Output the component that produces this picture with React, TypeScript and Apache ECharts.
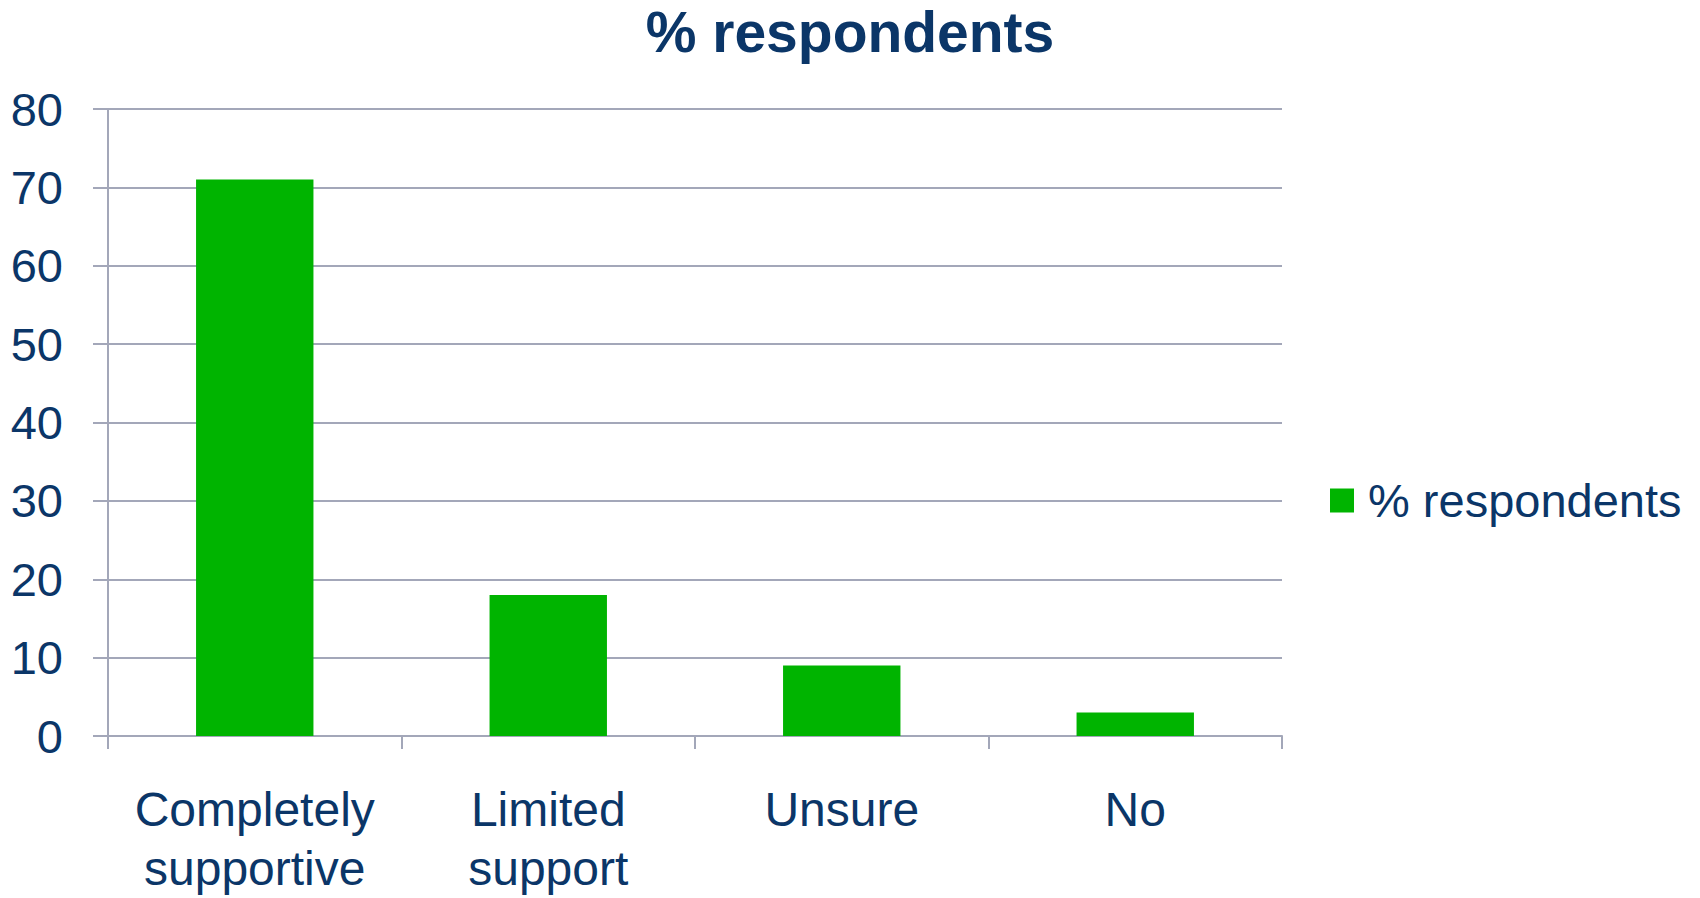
import React, { useEffect, useRef } from "react";
import * as echarts from "echarts";

const categories = ["Completely\nsupportive", "Limited\nsupport", "Unsure", "No"];
const seriesName = "% respondents";
const values = [71, 18, 9, 3];
const yTicks = { min: 0, max: 80, interval: 10 };

const TEXT = "#0B3668";
const GRID = "#A3A7B9";
const GREEN = "#00B400";
const FONT = "'Liberation Sans', Arial, sans-serif";

export default function App() {
  const ref = useRef<HTMLDivElement>(null);
  useEffect(() => {
    document.body.style.margin = "0";
    const chart = echarts.init(ref.current!, undefined, { renderer: "svg" });
    chart.setOption({
      animation: false,
      backgroundColor: "#ffffff",
      title: {
        text: seriesName,
        left: 845,
        top: -2,
        textAlign: "center",
        textStyle: { color: TEXT, fontSize: 57, fontWeight: "bold", fontFamily: FONT },
      },
      legend: {
        left: 1325,
        top: 472,
        itemWidth: 24,
        itemHeight: 24,
        icon: "rect",
        textStyle: { color: TEXT, fontSize: 47, fontFamily: FONT, padding: [0, 0, 0, 9] },
        data: [seriesName],
      },
      grid: { left: 108, right: 418, top: 109, bottom: 156, containLabel: false },
      xAxis: {
        type: "category",
        data: categories,
        axisLine: { lineStyle: { color: GRID, width: 2 } },
        axisTick: { show: true, length: 13, lineStyle: { color: GRID, width: 2 } },
        axisLabel: {
          color: TEXT,
          fontSize: 48,
          fontFamily: FONT,
          lineHeight: 59,
          margin: 44,
          interval: 0,
        },
      },
      yAxis: {
        type: "value",
        min: yTicks.min,
        max: yTicks.max,
        interval: yTicks.interval,
        axisLine: { show: true, lineStyle: { color: GRID, width: 2 } },
        axisTick: { show: true, length: 15, lineStyle: { color: GRID, width: 2 } },
        splitLine: { show: true, lineStyle: { color: GRID, width: 2 } },
        axisLabel: { color: TEXT, fontSize: 47, fontFamily: FONT, margin: 45 },
      },
      series: [
        {
          name: seriesName,
          type: "bar",
          data: values,
          barWidth: "40%",
          itemStyle: { color: GREEN },
        },
      ],
    });
    return () => chart.dispose();
  }, []);
  return <div ref={ref} style={{ width: 1700, height: 898 }} />;
}
